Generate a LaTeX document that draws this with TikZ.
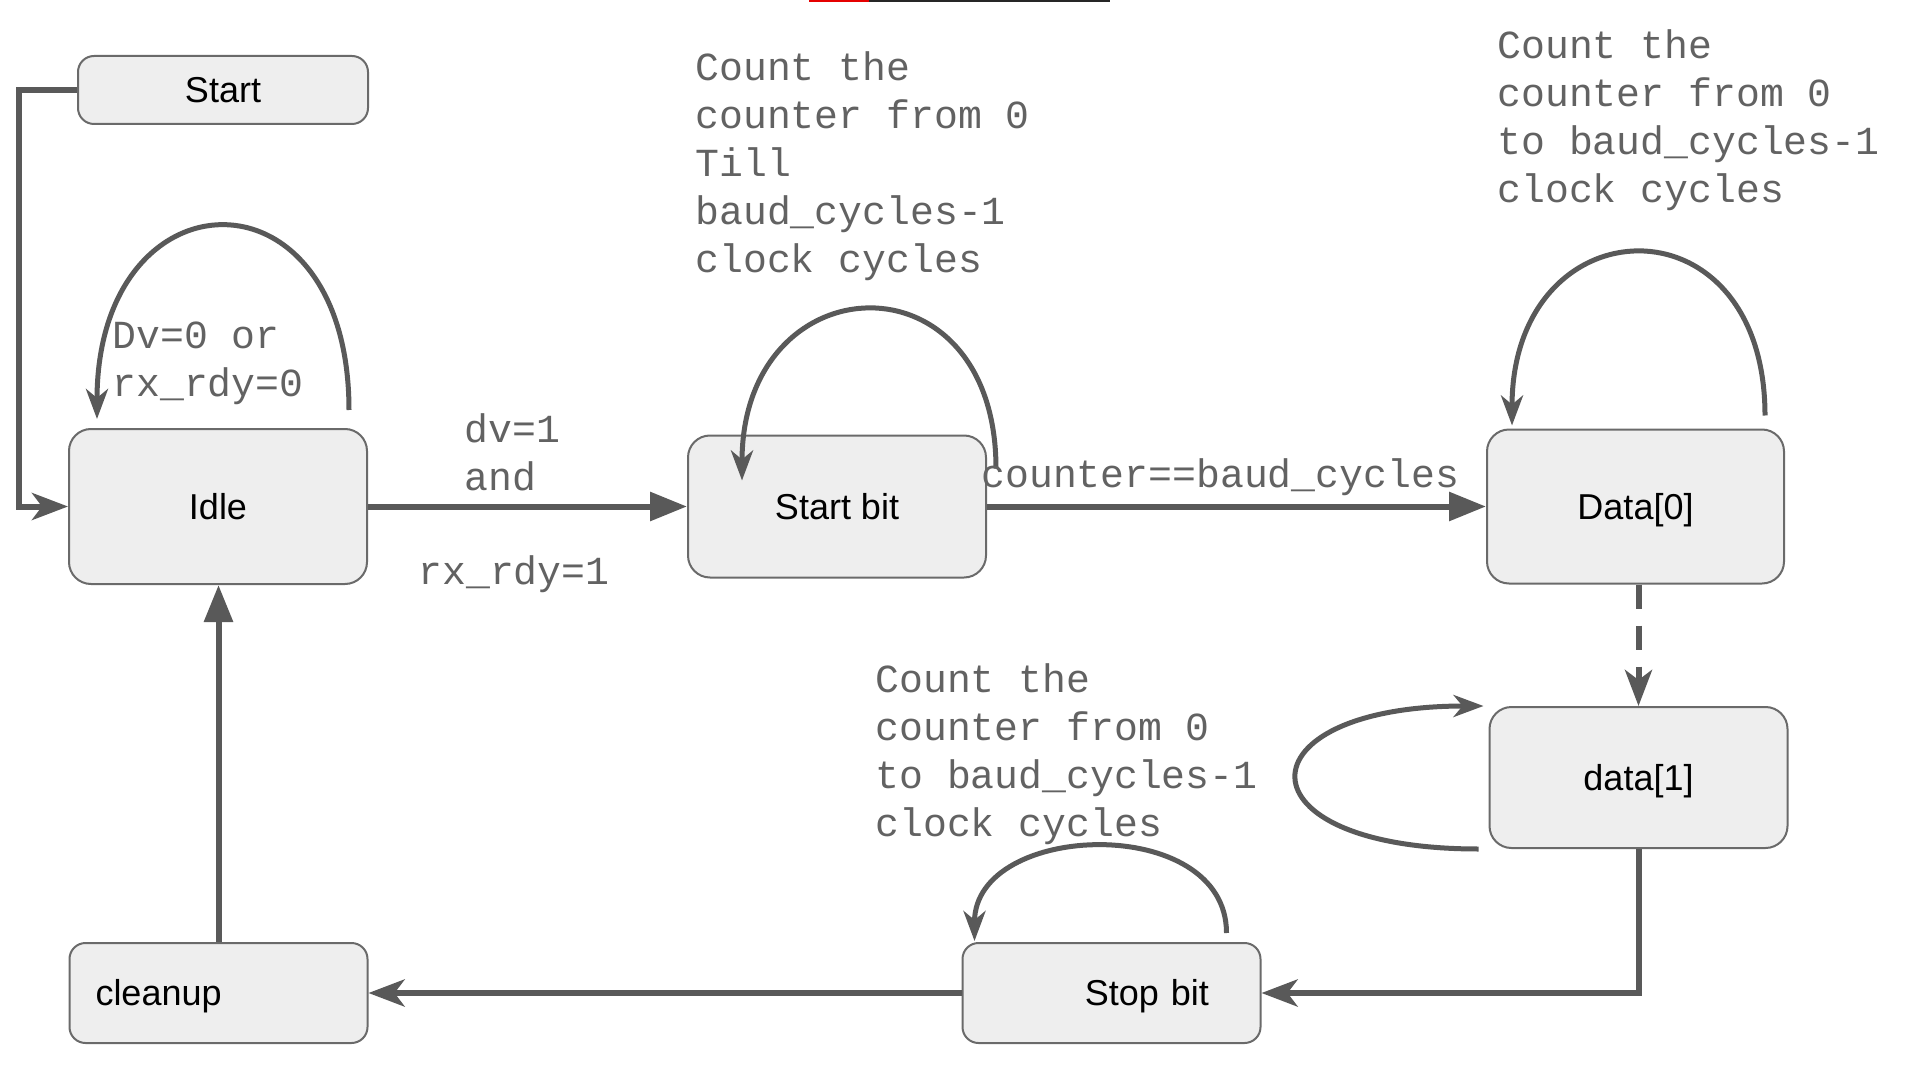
\documentclass[tikz,border=0pt]{standalone}
\usepackage{fontspec}
\setmainfont{Liberation Sans}
\newfontfamily\monofont{Liberation Mono}
\usetikzlibrary{arrows.meta,calc}
\definecolor{linegray}{HTML}{595959}
\definecolor{textgray}{HTML}{626262}
\definecolor{boxfill}{HTML}{EEEEEE}
\definecolor{boxline}{HTML}{6A6A6A}
\tikzset{
    mystate/.style={draw=boxline,fill=boxfill,line width=1pt,rounded corners=11pt,inner sep=0pt,minimum width=149pt,text height=12.9pt,text depth=0pt,font=\fontsize{18}{21}\selectfont},
    myedge/.style={draw=linegray,line width=3pt},
    mystealth/.style={-{Stealth[length=18pt,width=13.5pt,inset=5pt]}},
    mytri/.style={-{Triangle[length=18.5pt,width=14pt]}},
    myloop/.style={draw=linegray,line width=2.5pt,-{Stealth[length=15pt,width=11pt,inset=4.5pt]}},
    mytext/.style={text=textgray,inner sep=0pt,anchor=base west,align=left,font=\monofont\fontsize{19.9}{24}\selectfont}
}
\begin{document}
\begin{tikzpicture}[x=0.5pt,y=-0.5pt]
  \useasboundingbox (0,0) rectangle (1920,1080);
  \fill[red!90!black] (809,0) rectangle (869,2);
  \fill[black!85] (869,0) rectangle (1110,2);
  \node[mystate,minimum height=34pt,minimum width=145pt,rounded corners=8pt] (start) at (223,90) {Start};
  \node[mystate,minimum height=77.5pt] (idle) at (218,506.5) {Idle};
  \node[mystate,minimum height=71pt] (startbit) at (837,506.5) {Start bit};
  \node[mystate,minimum height=77pt,minimum width=148.5pt] (data0) at (1635.5,506.5) {Data[0]};
  \node[mystate,minimum height=70.5pt] (data1) at (1638.5,777.5) {data[1]};
  \node[mystate,minimum height=50pt,rounded corners=8pt,text width=97.5pt,align=right] (stopbit) at (1111.5,993) {Stop bit};
  \node[mystate,minimum height=50pt,rounded corners=8pt,text width=123pt,align=left] (cleanup) at (218.5,993) {cleanup};
  \draw[myedge,mystealth] (start.west) -- ++(-58,0) |- (idle.west);
  \draw[myedge,mytri] (idle) -- (startbit);
  \draw[myedge,mytri] (startbit) -- (data0);
  \draw[myedge,mystealth,dash pattern=on 12pt off 8.5pt] (data0.south -| data1.north) -- (data1.north);
  \draw[myedge,mystealth] (data1.south) |- (stopbit.east);
  \draw[myedge,mystealth] (stopbit) -- (cleanup);
  \draw[myedge,mytri] (cleanup.north) -- (cleanup.north |- idle.south);
  \draw[myloop] ([shift={(-19,-18)}]idle.north east) .. controls +(0,-250) and +(0,-250) .. ([shift={(29,-9)}]idle.north west);
  \draw[myloop] ([shift={(9,34)}]startbit.north east) .. controls +(0,-219) and +(0,-219) .. ([shift={(55,46)}]startbit.north west);
  \draw[myloop] ([shift={(-20,-13)}]data0.north east) .. controls +(0,-223) and +(0,-223) .. ([shift={(26,-3)}]data0.north west);
  \draw[myloop] ([shift={(-10,0)}]data1.south west) .. controls +(-245,0) and +(-245,0) .. ([shift={(-5,0)}]data1.north west);
  \draw[myloop] ([shift={(-35,-9)}]stopbit.north east) .. controls +(0,-120) and +(0,-120) .. ([shift={(13,-1)}]stopbit.north west);
  \node[mytext] (idlecond) at (112,396) {Dv=0 or\\rx\_rdy=0};
  \node[mytext] (gocond) at (464,490) {dv=1\\and};
  \node[mytext] (rdycond) at (418,584) {rx\_rdy=1};
  \node[mytext] (startnote) at (695,273) {Count the\\counter from 0\\Till\\baud\_cycles-1\\clock cycles};
  \node[mytext] (datanote) at (1497,203) {Count the\\counter from 0\\to baud\_cycles-1\\clock cycles};
  \node[mytext] (donecond) at (981,487) {counter==baud\_cycles};
  \node[mytext] (stopnote) at (875,836) {Count the\\counter from 0\\to baud\_cycles-1\\clock cycles};
\end{tikzpicture}
\end{document}
